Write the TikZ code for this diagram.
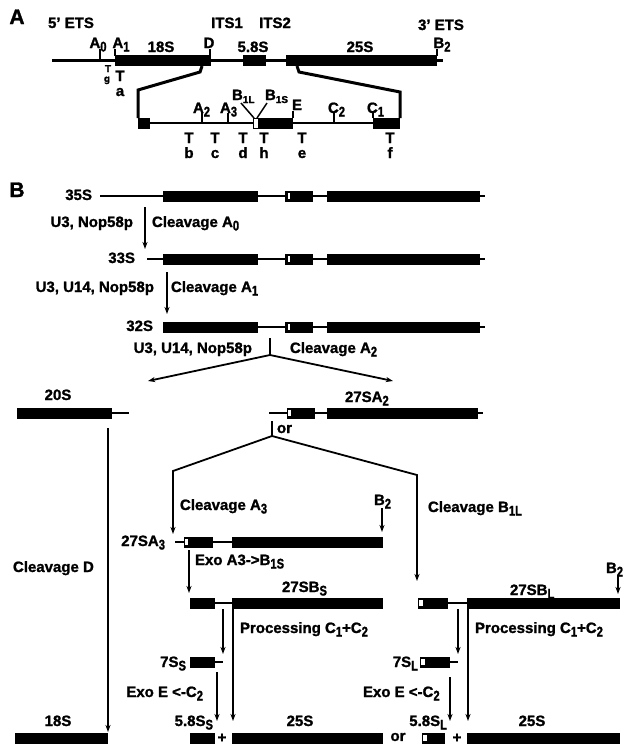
\documentclass[tikz,border=0pt]{standalone}
\usepackage{fontspec}
\setmainfont{Liberation Sans}[BoldFeatures={FakeBold=1.3}]
\usepackage{graphicx}
\usetikzlibrary{arrows.meta}
\newcommand\sbs[1]{\raisebox{-3.5pt}{\scalebox{0.8}[1]{\fontsize{14}{14}\selectfont #1}}}
\newcommand\lbf{\fontsize{15}{15}\selectfont\bfseries}
\newcommand\rbx[3]{\fill (#1,#3-5.5) rectangle (#2,#3+5.5);}
\newcommand\slt[3]{\filldraw[slit] (#1,#3-3.5) rectangle (#2,#3+3.5);}
\tikzset{
  lbl/.style={font=\lbf, inner sep=0pt, outer sep=0pt},
  smalllbl/.style={font=\fontsize{10}{10}\selectfont\bfseries, inner sep=0pt},
  rna/.style={line width=2.5pt},
  ticka/.style={line width=1.5pt},
  arr/.style={line width=1.5pt, -{Stealth[length=7pt,width=5pt,inset=2pt]}},
  splitline/.style={line width=1.8pt, line join=miter, -{Stealth[length=7pt,width=5pt,inset=2pt]}},
  zoomline/.style={line width=3pt, line join=miter},
  slit/.style={fill=white, draw=black, line width=0.8pt},
}
\begin{document}
\begin{tikzpicture}[x=1pt,y=-1pt]
\useasboundingbox (0,0) rectangle (630,745);
% ================= Part A =================
\node[lbl, font=\fontsize{21}{21}\selectfont\bfseries, anchor=base] (labA) at (17,24) {A};
\node[lbl, anchor=base] (ets5) at (71,28) {5' ETS};
\node[lbl, anchor=base] (its1) at (227,28) {ITS1};
\node[lbl, anchor=base] (its2) at (275,28) {ITS2};
\node[lbl, anchor=base] (ets3) at (441,30) {3' ETS};
\node[lbl, anchor=base] (a0) at (98,48) {A\sbs{0}};
\node[lbl, anchor=base] (a1) at (121,48) {A\sbs{1}};
\node[lbl, anchor=base] (s18) at (161,52) {18S};
\node[lbl, anchor=base] (dd) at (209,48) {D};
\node[lbl, anchor=base] (s58) at (253,52) {5.8S};
\node[lbl, anchor=base] (s25) at (360,52) {25S};
\node[lbl, anchor=base] (b2a) at (442,48) {B\sbs{2}};
% main line
\draw[line width=2.8pt] (52,60.5) -- (443,60.5);
\rbx{115}{211}{60.5}
\rbx{243}{266}{60.5}
\rbx{286}{437}{60.5}
\draw[ticka] (100,49) -- (100,60);
\draw[ticka] (115,49) -- (115,56);
\draw[ticka] (210,49) -- (210,56);
\draw[ticka] (437,49) -- (437,56);
\node[smalllbl, anchor=base] (tg) at (108,72) {T};
\node[smalllbl, anchor=base] (gg) at (107,82) {g};
\node[lbl, anchor=base] (ta) at (120,81) {T};
\node[lbl, anchor=base] (aa) at (120,96) {a};
% zoom lines
\draw[zoomline] (202,66) -- (200,72) -- (138,90) -- (138,118);
\draw[zoomline] (297,66) -- (299,72) -- (400,92) -- (400,118);
% expanded line
\draw[line width=2.8pt] (138,123) -- (400,123);
\rbx{138}{150}{123}
\rbx{258}{293}{123}
\filldraw[slit] (253,118) rectangle (258,128);
\rbx{373}{400}{123}
\draw[ticka] (202,113) -- (202,123);
\draw[ticka] (228,113) -- (228,123);
\draw[ticka] (293,111) -- (293,118);
\draw[ticka] (334,113) -- (334,123);
\draw[ticka] (373,111) -- (373,118);
\draw[ticka] (241,103) -- (254,118);
\draw[ticka] (267,103) -- (257,118);
\node[lbl, anchor=base west] (a2e) at (193,113) {A\sbs{2}};
\node[lbl, anchor=base west] (a3e) at (220,113) {A\sbs{3}};
\node[lbl, anchor=base west] (b1l) at (232,100) {B\raisebox{-3pt}{\fontsize{10}{10}\selectfont 1L}};
\node[lbl, anchor=base west] (b1s) at (265,100) {B\raisebox{-3pt}{\fontsize{10}{10}\selectfont 1S}};
\node[lbl, anchor=base west] (ee) at (292,110) {E};
\node[lbl, anchor=base west] (c2e) at (328,113) {C\sbs{2}};
\node[lbl, anchor=base west] (c1e) at (367,113) {C\sbs{1}};
\foreach \xx/\ll in {189/b,215/c,243/d,264/h,302/e,390/f}{
  \node[lbl, anchor=base] (t\ll) at (\xx,143) {T};
  \node[lbl, anchor=base] (l\ll) at (\xx,158) {\ll};
}
% ================= Part B =================
\node[lbl, font=\fontsize{21}{21}\selectfont\bfseries, anchor=base] (labB) at (17,197) {B};
% 35S
\node[lbl, anchor=base east] (n35) at (92,200) {35S};
\draw[rna] (100,196) -- (485,196);
\rbx{163}{258}{196} \rbx{285}{313}{196} \slt{287}{290.5}{196} \rbx{327}{480}{196}
\coordinate (p1s) at (145,207); \coordinate (p1e) at (145,249);
\draw[arr] (p1s) -- (p1e);
\node[lbl, anchor=base east] (u1) at (133,227) {U3, Nop58p};
\node[lbl, anchor=base west] (c1) at (152,227) {Cleavage A\sbs{0}};
% 33S
\node[lbl, anchor=base east] (n33) at (135,263) {33S};
\draw[rna] (147,259) -- (485,259);
\rbx{163}{258}{259} \rbx{285}{313}{259} \slt{287}{290.5}{259} \rbx{327}{480}{259}
\coordinate (p2s) at (167,272); \coordinate (p2e) at (167,314);
\draw[arr] (p2s) -- (p2e);
\node[lbl, anchor=base east] (u2) at (154,292) {U3, U14, Nop58p};
\node[lbl, anchor=base west] (c2) at (171,292) {Cleavage A\sbs{1}};
% 32S
\node[lbl, anchor=base east] (n32) at (153,331) {32S};
\draw[rna] (163,327) -- (485,327);
\rbx{163}{258}{327} \rbx{285}{313}{327} \slt{287}{290.5}{327} \rbx{327}{480}{327}
\node[lbl, anchor=base east] (u3) at (252,353) {U3, U14, Nop58p};
\node[lbl, anchor=base west] (c3) at (290,353) {Cleavage A\sbs{2}};
\coordinate (sp1t) at (270,338); \coordinate (sp1) at (270,355);
\draw[ticka] (sp1t) -- (sp1);
\coordinate (to20) at (148,381); \coordinate (to27) at (393,381);
\draw[splitline] (sp1) -- (to20);
\draw[splitline] (sp1) -- (to27);
% 20S
\node[lbl, anchor=base] (n20) at (58,400) {20S};
\rbx{17}{112}{413}
\draw[rna] (112,413) -- (129,413);
% 27SA2
\node[lbl, anchor=base west] (n27a2) at (345,402) {27SA\sbs{2}};
\draw[rna] (269,413) -- (483,413);
\rbx{287}{315}{413} \slt{287.5}{291}{413} \rbx{327}{478}{413}
\coordinate (sp2t) at (272,421); \coordinate (sp2) at (272,436);
\draw[ticka] (sp2t) -- (sp2);
\node[lbl, anchor=base west] (or1) at (277,433) {or};
\coordinate (kl) at (173,471); \coordinate (ka3) at (173,534);
\coordinate (kr) at (417,475); \coordinate (kb1) at (417,581);
\draw[splitline] (sp2) -- (kl) -- (ka3);
\draw[splitline] (sp2) -- (kr) -- (kb1);
\node[lbl, anchor=base west] (ca3) at (180,510) {Cleavage A\sbs{3}};
\node[lbl, anchor=base west] (cb1l) at (428,512) {Cleavage B\sbs{1L}};
% Cleavage D
\coordinate (ds) at (108,428); \coordinate (de) at (108,732);
\draw[arr] (ds) -- (de);
\node[lbl, anchor=base west] (cd) at (13,572) {Cleavage D};
% 27SA3
\node[lbl, anchor=base west] (b2b) at (374,505) {B\sbs{2}};
\coordinate (b2bs) at (382,508); \coordinate (b2be) at (382,532);
\draw[arr] (b2bs) -- (b2be);
\node[lbl, anchor=base east] (n27a3) at (165,546) {27SA\sbs{3}};
\draw[rna] (175,542) -- (232,542);
\rbx{184}{213}{542} \slt{184.5}{188}{542} \rbx{232}{383}{542}
\coordinate (exs) at (189,550); \coordinate (exe) at (189,593);
\draw[arr] (exs) -- (exe);
\node[lbl, anchor=base west] (exo) at (195,565) {Exo A3->B\sbs{1S}};
% 27SBS
\node[lbl, anchor=base west] (n27bs) at (282,592) {27SB\sbs{S}};
\draw[rna] (215,603) -- (232,603);
\rbx{190}{215}{603} \rbx{232}{383}{603}
% 27SBL
\node[lbl, anchor=base west] (n27bl) at (510,595) {27SB\sbs{L}};
\node[lbl, anchor=base west] (b2c) at (606,573) {B\sbs{2}};
\coordinate (b2cs) at (618,575); \coordinate (b2ce) at (618,594);
\draw[arr] (b2cs) -- (b2ce);
\draw[rna] (448,603) -- (467,603);
\rbx{418}{448}{603} \slt{418.5}{423}{603} \rbx{467}{620}{603}
% processing S
\coordinate (psa) at (223,609); \coordinate (psb) at (223,654);
\coordinate (psc) at (233,609); \coordinate (psd) at (233,721);
\draw[arr] (psa) -- (psb);
\draw[arr] (psc) -- (psd);
\node[lbl, anchor=base west] (prs) at (240,633) {Processing C\sbs{1}+C\sbs{2}};
% processing L
\coordinate (pla) at (458,609); \coordinate (plb) at (458,654);
\coordinate (plc) at (468,609); \coordinate (pld) at (468,721);
\draw[arr] (pla) -- (plb);
\draw[arr] (plc) -- (pld);
\node[lbl, anchor=base west] (prl) at (475,633) {Processing C\sbs{1}+C\sbs{2}};
% 7SS
\node[lbl, anchor=base east] (n7s) at (186,667) {7S\sbs{S}};
\rbx{190}{215}{662}
\draw[rna] (215,662) -- (223,662);
\coordinate (e7sa) at (217,672); \coordinate (e7sb) at (217,721);
\draw[arr] (e7sa) -- (e7sb);
\node[lbl, anchor=base east] (exes) at (203,697) {Exo E <-C\sbs{2}};
% 7SL
\node[lbl, anchor=base east] (n7l) at (418,667) {7S\sbs{L}};
\rbx{420}{450}{662} \slt{420.5}{425}{662}
\draw[rna] (450,662) -- (458,662);
\coordinate (e7la) at (450,677); \coordinate (e7lb) at (450,721);
\draw[arr] (e7la) -- (e7lb);
\node[lbl, anchor=base west] (exel) at (363,697) {Exo E <-C\sbs{2}};
% bottom row
\node[lbl, anchor=base] (n18) at (58,726) {18S};
\rbx{15}{108}{738}
\node[lbl, anchor=base east] (n58s) at (213,726) {5.8S\sbs{S}};
\rbx{190}{215}{738}
\node[lbl] (plus1) at (222,738) {+};
\node[lbl, anchor=base] (n25s) at (300,726) {25S};
\rbx{232}{383}{738}
\node[lbl] (or2) at (398,737) {or};
\node[lbl, anchor=base east] (n58l) at (447,726) {5.8S\sbs{L}};
\rbx{422}{445}{738} \slt{422.5}{427}{738}
\node[lbl] (plus2) at (457,738) {+};
\node[lbl, anchor=base] (n25l) at (532,726) {25S};
\rbx{467}{620}{738}
\end{tikzpicture}
\end{document}
